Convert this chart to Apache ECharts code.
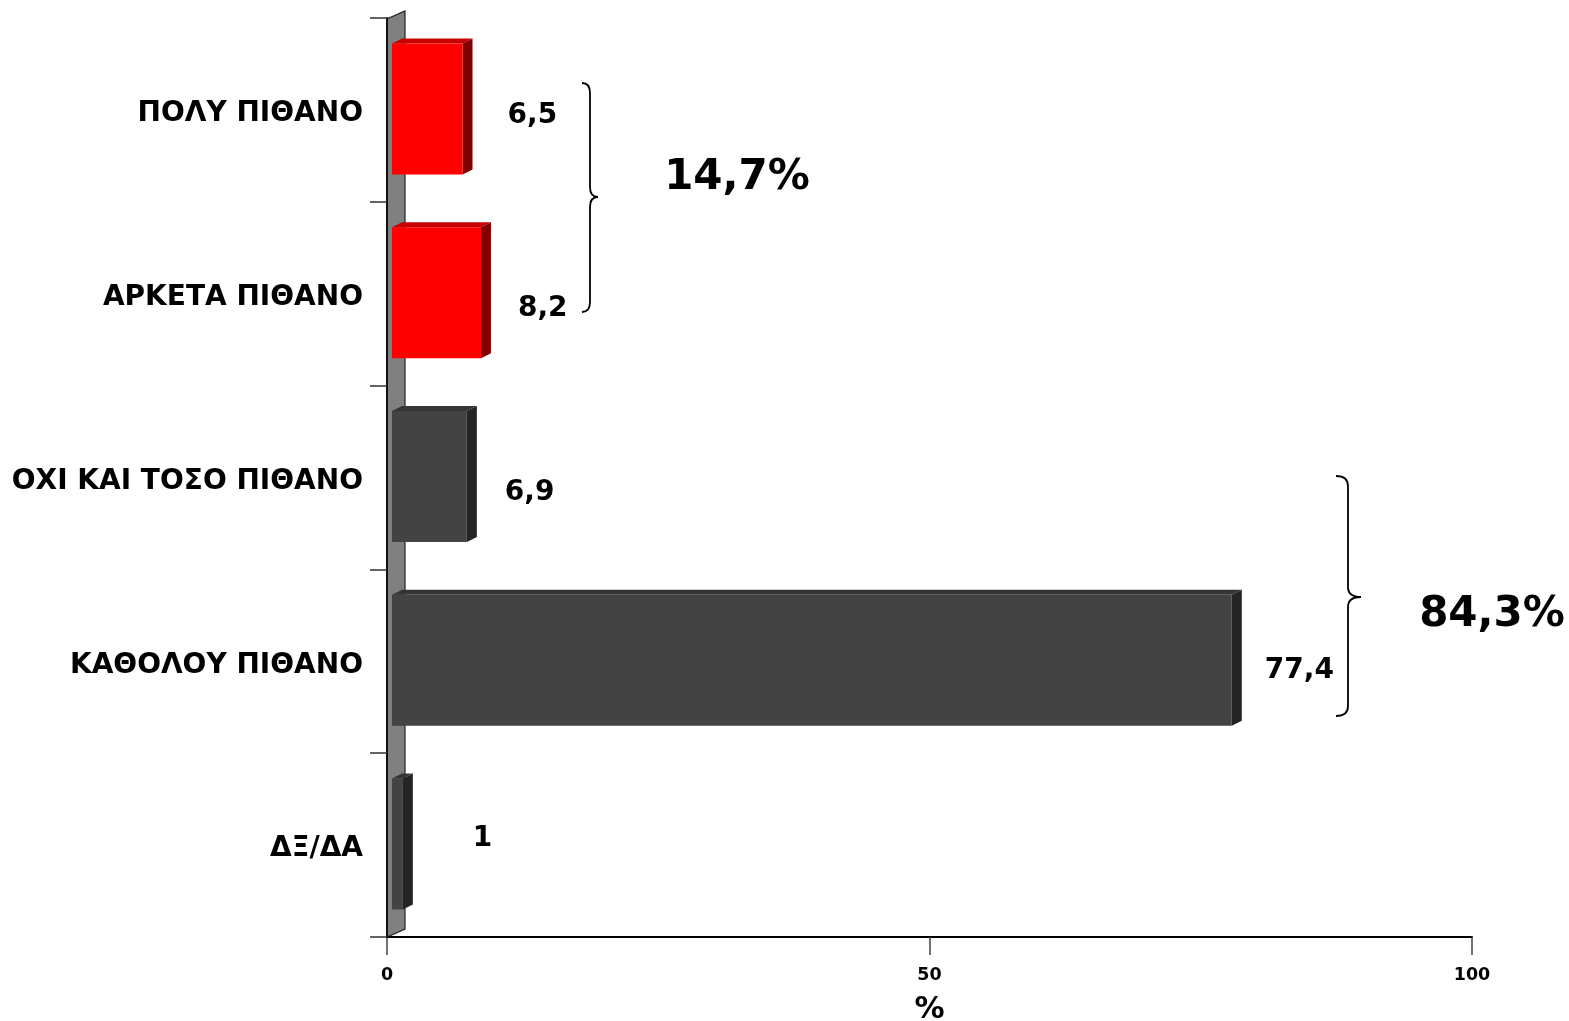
<!DOCTYPE html>
<html>
<head>
<meta charset="utf-8">
<script src="https://cdn.jsdelivr.net/npm/echarts@6/dist/echarts.min.js"></script>
<style>
html,body{margin:0;padding:0;background:#fff;}
#chart{width:1569px;height:1021px;}
</style>
</head>
<body>
<div id="chart"></div>
<script>
// ---- data ----
const categories = ['ΠΟΛΥ ΠΙΘΑΝΟ', 'ΑΡΚΕΤΑ ΠΙΘΑΝΟ', 'ΟΧΙ ΚΑΙ ΤΟΣΟ ΠΙΘΑΝΟ', 'ΚΑΘΟΛΟΥ ΠΙΘΑΝΟ', 'ΔΞ/ΔΑ'];
const values = [6.5, 8.2, 6.9, 77.4, 1];
const xTicks = [0, 50, 100];
const groupTotals = ['14,7%', '84,3%'];

// ---- styling (not data) ----
const barTone = ['red', 'red', 'dark', 'dark', 'dark'];
const palette = {
  red:  { front: '#FF0000', top: '#C80000', side: '#800000' },
  dark: { front: '#434343', top: '#353535', side: '#242424' }
};
const labelNudge = [[9, 6], [1, 15], [2, 15], [-3, 9], [34, -6]];
const FONT = '"DejaVu Sans", Verdana, sans-serif';

const chart = echarts.init(document.getElementById('chart'), null, { renderer: 'canvas', width: 1569, height: 1021 });

const DX = 10, DY = 5;

function renderItem(params, api) {
  const v = api.value(0);
  const ci = api.value(1);
  const p0 = api.coord([0, ci]);
  const p1 = api.coord([v, ci]);
  const band = api.size([0, 1])[1];
  const h = band * 0.713;
  const x = p0[0] + 5;
  const w = p1[0] - p0[0];
  const y = p0[1] - h / 2 - 1;
  const c = palette[barTone[ci]];
  const nudge = labelNudge[ci];
  return {
    type: 'group',
    children: [
      { type: 'polygon', shape: { points: [[x, y], [x + DX, y - DY], [x + w + DX, y - DY], [x + w, y]] },
        style: { fill: c.top } },
      { type: 'polygon', shape: { points: [[x + w, y], [x + w + DX, y - DY], [x + w + DX, y + h - DY], [x + w, y + h]] },
        style: { fill: c.side } },
      { type: 'rect', shape: { x: x, y: y, width: w, height: h },
        style: { fill: c.front } },
      { type: 'text', x: x + w + DX + 26 + nudge[0], y: p0[1] + nudge[1],
        style: { text: String(v).replace('.', ','), fill: '#000', font: 'bold 28px ' + FONT,
                 align: 'left', verticalAlign: 'middle' } }
    ]
  };
}

const GL = 387, GT = 18, GR = 97, GB = 84;
const W = 1569, H = 1021;
const gx0 = GL, gy0 = GT, gy1 = H - GB;

function brace(xl, xm, xt, yt, ym, yb) {
  const r = 10;
  const st = { stroke: '#000', lineWidth: 1.8, fill: null };
  return {
    type: 'group',
    children: [
      { type: 'bezierCurve', shape: { x1: xl, y1: yt, cpx1: xm, cpy1: yt, x2: xm, y2: yt + r }, style: st },
      { type: 'line', shape: { x1: xm, y1: yt + r, x2: xm, y2: ym - r }, style: st },
      { type: 'bezierCurve', shape: { x1: xm, y1: ym - r, cpx1: xm, cpy1: ym, x2: xt, y2: ym }, style: st },
      { type: 'bezierCurve', shape: { x1: xt, y1: ym, cpx1: xm, cpy1: ym, x2: xm, y2: ym + r }, style: st },
      { type: 'line', shape: { x1: xm, y1: ym + r, x2: xm, y2: yb - r }, style: st },
      { type: 'bezierCurve', shape: { x1: xm, y1: yb - r, cpx1: xm, cpy1: yb, x2: xl, y2: yb }, style: st }
    ]
  };
}

chart.setOption({
  animation: false,
  backgroundColor: '#ffffff',
  grid: { left: GL, top: GT, right: GR, bottom: GB, containLabel: false, outerBoundsMode: 'none' },
  xAxis: {
    type: 'value', min: 0, max: 100, interval: 50,
    name: '%', nameLocation: 'middle', nameGap: 58,
    nameTextStyle: { fontFamily: FONT, fontWeight: 'bold', fontSize: 30, color: '#000' },
    axisLine: { show: true, lineStyle: { color: '#000', width: 2 } },
    axisTick: { show: true, length: 18, lineStyle: { color: '#444', width: 1.5 } },
    axisLabel: { margin: 29, fontFamily: FONT, fontWeight: 'bold', fontSize: 17.5, color: '#000',
                 formatter: function (v) { return xTicks.indexOf(v) >= 0 ? String(v) : ''; } },
    splitLine: { show: false }
  },
  yAxis: {
    type: 'category', data: categories, inverse: true, z: 5,
    axisLine: { show: true, lineStyle: { color: '#111', width: 2 } },
    axisTick: { show: true, length: 17, lineStyle: { color: '#333', width: 1.5 } },
    axisLabel: { margin: 24, verticalAlign: 'top', lineHeight: 8, fontFamily: FONT, fontWeight: 'bold', fontSize: 28, color: '#000' }
  },
  series: [{
    type: 'custom',
    renderItem: renderItem,
    encode: { x: 0, y: 1 },
    data: values.map(function (v, i) { return [v, i]; }),
    z: 3
  }],
  graphic: [
    { type: 'polygon', z: -10, shape: { points: [[gx0, gy1], [gx0, gy0 + 1], [gx0 + 18, gy0 - 7], [gx0 + 18, gy1 - 8]] },
      style: { fill: '#808080', stroke: '#222', lineWidth: 1.2 } },
    brace(582, 590, 598, 83, 197, 312),
    brace(1336, 1348, 1361, 476, 597, 716),
    { type: 'text', x: 737, y: 178, style: { text: groupTotals[0], font: 'bold 42px ' + FONT, fill: '#000', align: 'center', verticalAlign: 'middle' } },
    { type: 'text', x: 1492, y: 615, style: { text: groupTotals[1], font: 'bold 42px ' + FONT, fill: '#000', align: 'center', verticalAlign: 'middle' } }
  ]
});
</script>
</body>
</html>
